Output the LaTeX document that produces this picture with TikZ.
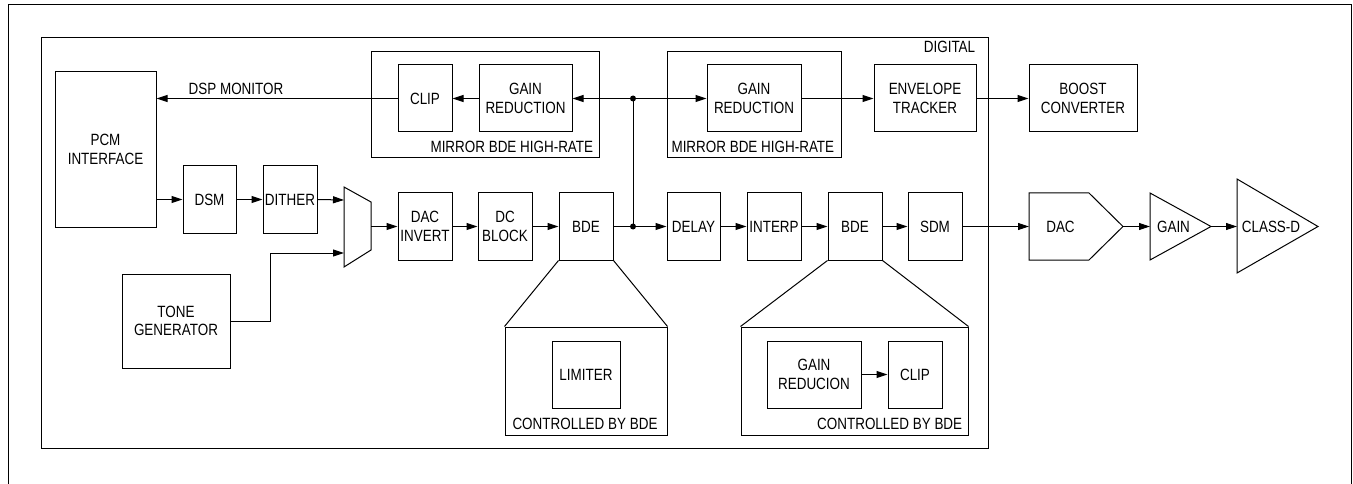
\documentclass[tikz,border=0pt]{standalone}
\usepackage{fontspec}
\setmainfont{Liberation Sans}[FakeStretch=0.825]
\usetikzlibrary{arrows.meta}

\begin{document}
\begin{tikzpicture}[x=1pt, y=-1pt, line width=1pt,
  every node/.style={font=\fontsize{16.3}{18.7}\selectfont},
  blk/.style={draw, align=center, inner sep=0pt, minimum height=67},
  frm/.style={draw, inner sep=0pt},
  arr/.style={-{Triangle[length=11pt,width=7pt]}},
  dot/.style={circle, fill, inner sep=0pt, minimum size=6}]
 \useasboundingbox (0,0) rectangle (1353,484);

 %frames
 \draw (8,484) -- (8,5) -- (1351,5) -- (1351,484);
 \node[frm, minimum width=947, minimum height=410] (digital) at (514.5,243) {};
 \node[anchor=base east] (diglbl) at (979,53) {DIGITAL};
 \node[frm, minimum width=228, minimum height=106] (mirA) at (485,105) {};
 \node[anchor=base east] (mirAlbl) at (597,153) {MIRROR BDE HIGH-RATE};
 \node[frm, minimum width=174, minimum height=106] (mirB) at (754,105) {};
 \node[anchor=base east] (mirBlbl) at (838,153) {MIRROR BDE HIGH-RATE};
 \node[frm, minimum width=162, minimum height=108] (ctrlA) at (586,381) {};
 \node[anchor=base] (ctrlAlbl) at (585,429) {CONTROLLED BY BDE};
 \node[frm, minimum width=227, minimum height=108] (ctrlB) at (854.5,381) {};
 \node[anchor=base east] (ctrlBlbl) at (966,429) {CONTROLLED BY BDE};

 %top row
 \node[blk, minimum width=101, minimum height=155] (pcm) at (105.5,149.5) {PCM\\INTERFACE};
 \node[blk, minimum width=54] (clipA) at (425,98.5) {CLIP};
 \node[blk, minimum width=93] (grA) at (525.5,98.5) {GAIN\\REDUCTION};
 \node[blk, minimum width=94] (grB) at (754,98.5) {GAIN\\REDUCTION};
 \node[blk, minimum width=102] (env) at (925,98.5) {ENVELOPE\\TRACKER};
 \node[blk, minimum width=108] (boost) at (1083,98.5) {BOOST\\CONVERTER};
 \node[anchor=base] (dspmon) at (236,95) {DSP MONITOR};

 %main row
 \node[blk, minimum width=53] (dsm) at (209.5,199.5) {DSM};
 \node[blk, minimum width=54] (dither) at (290,199.5) {DITHER};
 \node[blk, minimum width=108, minimum height=94] (tone) at (176,321) {TONE\\GENERATOR};
 \draw (344,187) -- (371,202) -- (371,250) -- (344,267) -- cycle;
 \coordinate (muxA) at (344,200);
 \coordinate (muxB) at (344,253);
 \coordinate (muxO) at (371,226.5);
 \node[blk, minimum width=54] (dacinv) at (425,226.5) {DAC\\INVERT};
 \node[blk, minimum width=54] (dcblock) at (505,226.5) {DC\\BLOCK};
 \node[blk, minimum width=54] (bdeA) at (586,226.5) {BDE};
 \node[blk, minimum width=53] (delay) at (693.5,226.5) {DELAY};
 \node[blk, minimum width=54] (interp) at (774,226.5) {INTERP};
 \node[blk, minimum width=54] (bdeB) at (855,226.5) {BDE};
 \node[blk, minimum width=54] (sdm) at (935,226.5) {SDM};

 %analog part
 \draw (1029,193) -- (1089,193) -- (1123,226.5) -- (1089,260) -- (1029,260) -- cycle;
 \coordinate (dacL) at (1029,226.5);
 \coordinate (dacR) at (1123,226.5);
 \node (daclbl) at (1060.5,226.5) {DAC};
 \draw (1150,193) -- (1211,226.5) -- (1150,260) -- cycle;
 \coordinate (gainL) at (1150,226.5);
 \coordinate (gainR) at (1211,226.5);
 \node (gainlbl) at (1173.5,226.5) {GAIN};
 \draw (1237,179) -- (1318,226.5) -- (1237,273) -- cycle;
 \coordinate (classL) at (1237,226.5);
 \node (classlbl) at (1271,226.5) {CLASS-D};

 %inside the BDEs
 \node[blk, minimum width=68] (limiter) at (586,374.5) {LIMITER};
 \node[blk, minimum width=94] (grC) at (814,374.5) {GAIN\\REDUCION};
 \node[blk, minimum width=54] (clipC) at (915,374.5) {CLIP};
 \draw (bdeA.south west) -- (ctrlA.north west);
 \draw (bdeA.south east) -- (ctrlA.north east);
 \draw (bdeB.south west) -- (ctrlB.north west);
 \draw (bdeB.south east) -- (ctrlB.north east);

 %junctions
 \node[dot] (jT) at (633,98.5) {};
 \node[dot] (jM) at (633,226.5) {};

 %arrows
 \draw[arr] (clipA.west) -- (pcm.east |- clipA.west);
 \draw[arr] (grA) -- (clipA);
 \draw[arr] (jT.center) -- (grA.east);
 \draw[arr] (jT.center) -- (grB.west);
 \draw[arr] (grB) -- (env);
 \draw[arr] (env) -- (boost);
 \draw (jT.center) -- (jM.center);
 \draw (bdeA.east) -- (jM.center);
 \draw[arr] (jM.center) -- (delay.west);
 \draw[arr] (pcm.east |- dsm.west) -- (dsm.west);
 \draw[arr] (dsm) -- (dither);
 \draw[arr] (dither.east) -- (muxA);
 \draw[arr] (tone.east) -- ++(40,0) |- (muxB);
 \draw[arr] (muxO) -- (dacinv.west);
 \draw[arr] (dacinv) -- (dcblock);
 \draw[arr] (dcblock) -- (bdeA);
 \draw[arr] (delay) -- (interp);
 \draw[arr] (interp) -- (bdeB);
 \draw[arr] (bdeB) -- (sdm);
 \draw[arr] (sdm.east) -- (dacL);
 \draw[arr] (dacR) -- (gainL);
 \draw[arr] (gainR) -- (classL);
 \draw[arr] (grC) -- (clipC);
\end{tikzpicture}
\end{document}
